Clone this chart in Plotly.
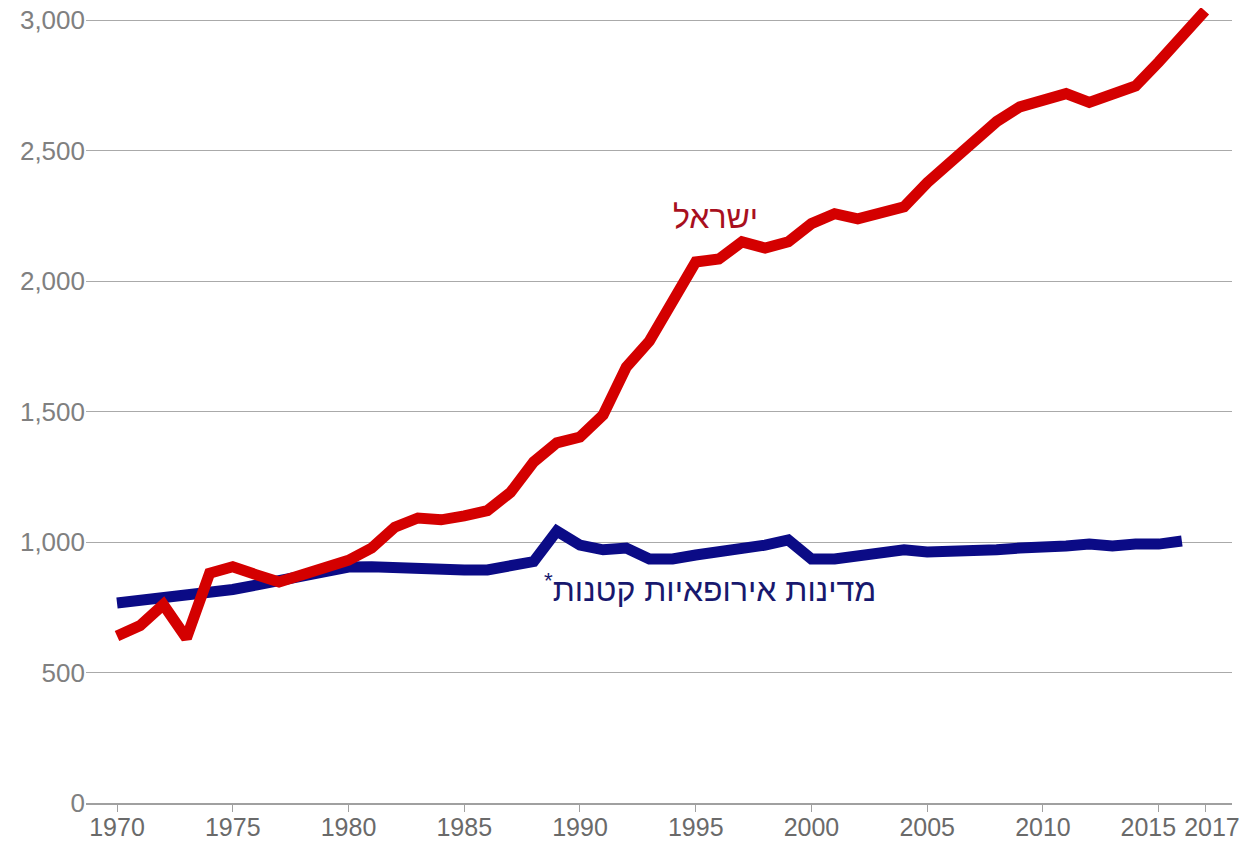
import plotly.graph_objects as go

years = list(range(1970, 2018))
israel = [640, 680, 760, 632, 880, 905, 875, 847, 875, 905,
          930, 977, 1057, 1092, 1085, 1100, 1120, 1190, 1307, 1380,
          1402, 1487, 1670, 1770, 1915, 2073, 2084, 2150, 2126, 2150,
          2220, 2258, 2238, 2257, 2284, 2377, 2456, 2533, 2611, 2667,
          2697, 2718, 2684, 2712, 2747, 2839, 2943, 3035]
europe_years = list(range(1970, 2017))
europe = [766, 775, 785, 797, 810, 818, 835, 850, 870, 888,
          904, 905, 900, 900, 900, 893, 893, 910, 925, 1042,
          988, 970, 977, 935, 935, 950, 962, 970, 988, 1008,
          935, 935, 946, 954, 970, 962, 962, 970, 970, 977,
          977, 985, 992, 985, 992, 992, 1004]

x_ticks = [1970, 1975, 1980, 1985, 1990, 1995, 2000, 2005, 2010, 2015, 2017]
x_labels = ["1970", "1975", "1980", "1985", "1990", "1995", "2000", "2005", "2010",
            "2015\u00a0\u00a0\u00a0", "\u00a0\u00a02017"]
y_ticks = [0, 500, 1000, 1500, 2000, 2500, 3000]
y_labels = ["0", "500", "1,000", "1,500", "2,000", "2,500", "3,000"]

fig = go.Figure()
fig.add_trace(go.Scatter(x=europe_years, y=europe, mode="lines",
                         line=dict(color="#0b0b86", width=11), showlegend=False))
fig.add_trace(go.Scatter(x=years, y=israel, mode="lines",
                         line=dict(color="#d40000", width=11), showlegend=False))

fig.add_annotation(x=1995.85, y=2245, text="ישראל", showarrow=False,
                   font=dict(family="Liberation Sans, DejaVu Sans", size=32, color="#a8101e"))
fig.add_annotation(x=1995.6, y=824, text="<sup>*</sup>מדינות אירופאיות קטנות", showarrow=False,
                   font=dict(family="Liberation Sans, DejaVu Sans", size=32, color="#18186e"))

fig.update_layout(
    width=1251, height=843,
    margin=dict(l=78, r=27, t=0, b=48, autoexpand=False),
    paper_bgcolor="white", plot_bgcolor="white",
    xaxis=dict(range=[1968.661, 2018.166], tickmode="array", tickvals=x_ticks,
               ticktext=x_labels, tickangle=0, automargin=False,
               ticklabeloverflow="allow", ticklabelstandoff=-6,
               showgrid=False, zeroline=False, showline=True, linecolor="#a0a0a0", linewidth=2,
               ticks="outside", ticklen=7, tickcolor="#a0a0a0",
               tickfont=dict(family="Liberation Sans, Arial", size=25, color="#6a6a6a")),
    yaxis=dict(range=[0, 3046], tickmode="array", tickvals=y_ticks, ticktext=y_labels,
               automargin=False, ticklabeloverflow="allow",
               showgrid=True, gridcolor="#aaaaaa", gridwidth=1, zeroline=False,
               showline=False, ticks="", ticklen=0,
               tickfont=dict(family="Liberation Sans, Arial", size=26, color="#808080")),
)

fig.write_html("out.html")
